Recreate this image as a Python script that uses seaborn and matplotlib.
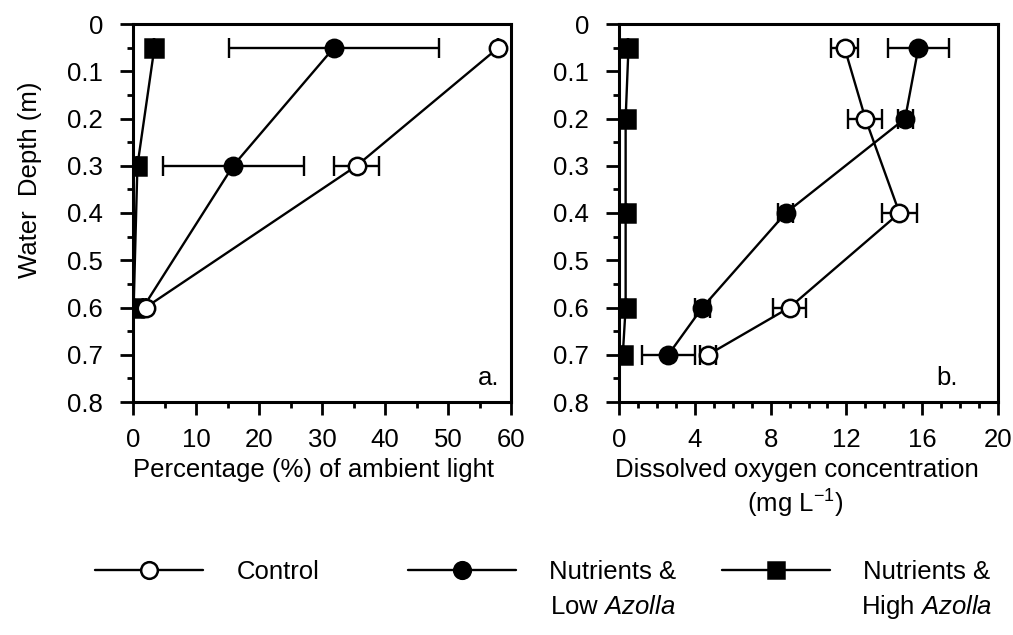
import matplotlib
matplotlib.use("Agg")
import matplotlib.pyplot as plt
import numpy as np
import pandas as pd
import seaborn as sns
from matplotlib.lines import Line2D
from matplotlib.ticker import FuncFormatter, MultipleLocator

# ---------------------------------------------------------------------------
# Data
# ---------------------------------------------------------------------------
SERIES = ["Control", "Nutrients & Low Azolla", "Nutrients & High Azolla"]

# panel a: light (% of ambient) vs depth
LIGHT_DEPTH = [0.05, 0.30, 0.60]
LIGHT_CONTROL = [58.0, 35.5, 2.0]
LIGHT_CONTROL_ERR = [0.0, 3.6, 0.0]
LIGHT_LOW = [31.9, 15.9, 1.6]
LIGHT_LOW_ERR = [16.6, 11.2, 0.0]
LIGHT_HIGH = [3.4, 0.7, 0.1]
LIGHT_HIGH_ERR = [0.0, 0.0, 0.0]

# panel b: dissolved oxygen (mg/L) vs depth
DO_DEPTH = [0.05, 0.20, 0.40, 0.60, 0.70]
DO_CONTROL = [11.9, 13.0, 14.8, 9.0, 4.7]
DO_CONTROL_ERR = [0.7, 0.9, 0.9, 0.85, 0.4]
DO_LOW = [15.8, 15.1, 8.8, 4.4, 2.6]
DO_LOW_ERR = [1.6, 0.4, 0.4, 0.4, 1.4]
DO_HIGH = [0.5, 0.35, 0.35, 0.35, 0.2]
DO_HIGH_ERR = [0.0, 0.0, 0.0, 0.0, 0.0]

STYLE = {
    "Control": dict(marker="o", mfc="white"),
    "Nutrients & Low Azolla": dict(marker="o", mfc="black"),
    "Nutrients & High Azolla": dict(marker="s", mfc="black"),
}

sns.set_theme(style="ticks")
plt.rcParams["font.family"] = ["Liberation Sans", "DejaVu Sans"]
plt.rcParams["mathtext.fontset"] = "custom"
plt.rcParams["mathtext.rm"] = "Liberation Sans"
plt.rcParams["mathtext.it"] = "Liberation Sans:italic"
for key in ("text.color", "axes.labelcolor", "xtick.color", "ytick.color",
            "axes.edgecolor"):
    plt.rcParams[key] = "black"

FS = 18.5
LW = 1.7


def draw_panel(ax, depth, vals, errs, xlim, xmajor, xminor):
    # draw high first so control sits on top
    for name in SERIES[::-1]:
        v, e = vals[name], errs[name]
        st = STYLE[name]
        df = pd.DataFrame({"x": v, "depth": depth})
        ax.errorbar(v, depth, xerr=e, fmt="none", ecolor="black",
                    elinewidth=LW, capsize=7, capthick=LW, zorder=2)
        sns.lineplot(data=df, x="x", y="depth", orient="y", sort=False,
                     ax=ax, color="black", lw=LW, marker=st["marker"],
                     markersize=12.5, markerfacecolor=st["mfc"],
                     markeredgecolor="black", markeredgewidth=1.8, zorder=3)
    ax.set_xlim(*xlim)
    ax.set_ylim(0.8, 0.0)
    ax.xaxis.set_major_locator(MultipleLocator(xmajor))
    ax.xaxis.set_minor_locator(MultipleLocator(xminor))
    ax.yaxis.set_major_locator(MultipleLocator(0.1))
    ax.yaxis.set_minor_locator(MultipleLocator(0.05))
    ax.yaxis.set_major_formatter(FuncFormatter(lambda v, p: f"{v:g}"))
    ax.tick_params(which="major", length=9.5, width=2, labelsize=FS,
                   direction="out", colors="black", pad=9)
    ax.tick_params(axis="y", which="major", pad=12)
    ax.tick_params(which="minor", length=4.5, width=2, direction="out")
    for s in ax.spines.values():
        s.set_linewidth(2.2)
        s.set_color("black")
    ax.set_xlabel("")
    ax.set_ylabel("")


fig = plt.figure(figsize=(10.13, 6.35), dpi=100)
ax_a = fig.add_axes([133 / 1013, 1 - 402 / 635, 378 / 1013, 378 / 635])
ax_b = fig.add_axes([619 / 1013, 1 - 402 / 635, 379 / 1013, 378 / 635])

draw_panel(ax_a, LIGHT_DEPTH,
           {SERIES[0]: LIGHT_CONTROL, SERIES[1]: LIGHT_LOW, SERIES[2]: LIGHT_HIGH},
           {SERIES[0]: LIGHT_CONTROL_ERR, SERIES[1]: LIGHT_LOW_ERR, SERIES[2]: LIGHT_HIGH_ERR},
           (0, 60), 10, 5)
draw_panel(ax_b, DO_DEPTH,
           {SERIES[0]: DO_CONTROL, SERIES[1]: DO_LOW, SERIES[2]: DO_HIGH},
           {SERIES[0]: DO_CONTROL_ERR, SERIES[1]: DO_LOW_ERR, SERIES[2]: DO_HIGH_ERR},
           (0, 20), 4, 1)

ax_a.text(0.94, 0.063, "a.", transform=ax_a.transAxes, fontsize=FS,
          ha="center", va="center")
ax_b.text(0.865, 0.063, "b.", transform=ax_b.transAxes, fontsize=FS,
          ha="center", va="center")

fig.text(30 / 1013, 1 - 180 / 635, "Water  Depth (m)", rotation=90,
         fontsize=FS, ha="center", va="center")
fig.text(133 / 1013, 1 - 470 / 635, "Percentage (%) of ambient light",
         fontsize=FS, ha="left", va="center")
fig.text(797 / 1013, 1 - 470 / 635, "Dissolved oxygen concentration",
         fontsize=FS, ha="center", va="center")
fig.text(795 / 1013, 1 - 504 / 635, "(mg L$^{-1}$)",
         fontsize=FS, ha="center", va="center")

# legend: three fixed columns, second line added as separate text
LEG_X = [95, 408, 722]
LEG_FIRST = ["Control", "Nutrients &", "Nutrients &"]
LEG_SECOND = [None, "Low $\\it{Azolla}$", "High $\\it{Azolla}$"]
legends = []
for name, x0, lab in zip(SERIES, LEG_X, LEG_FIRST):
    st = STYLE[name]
    h = Line2D([], [], color="black", lw=LW, marker=st["marker"],
               markersize=12, markerfacecolor=st["mfc"],
               markeredgecolor="black", markeredgewidth=1.8)
    leg = fig.legend([h], [lab], loc="center left",
                     bbox_to_anchor=(x0 / 1013, 1 - 572 / 635),
                     frameon=False, fontsize=FS, borderpad=0,
                     borderaxespad=0, handlelength=4.2, handletextpad=1.3)
    legends.append(leg)

fig.canvas.draw()
renderer = fig.canvas.get_renderer()
for leg, second in zip(legends, LEG_SECOND):
    if second is None:
        continue
    bb = leg.get_texts()[0].get_window_extent(renderer)
    cx = (bb.x0 + bb.x1) / 2 / fig.bbox.width
    fig.text(cx, 1 - 607 / 635, second, fontsize=FS, ha="center", va="center")

fig.savefig("out.png", dpi=100)
